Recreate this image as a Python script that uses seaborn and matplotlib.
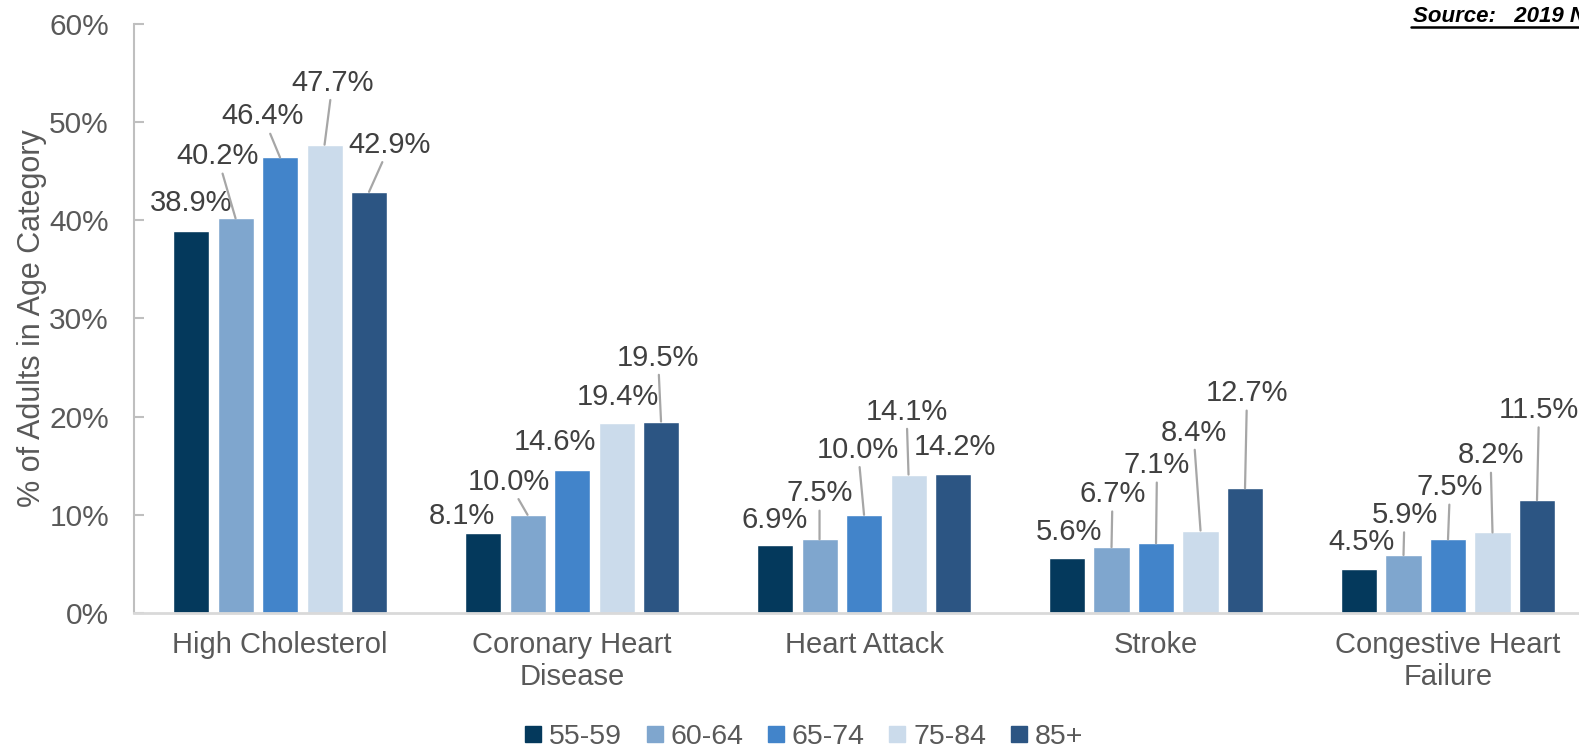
import numpy as np
import pandas as pd
import seaborn as sns
import matplotlib
matplotlib.use("Agg")
import matplotlib.pyplot as plt
from matplotlib.ticker import PercentFormatter, MultipleLocator
from matplotlib.lines import Line2D

# ---- data ----
categories = ["High Cholesterol", "Coronary Heart\nDisease", "Heart Attack",
              "Stroke", "Congestive Heart\nFailure"]
age_groups = ["55-59", "60-64", "65-74", "75-84", "85+"]
v_55_59 = [38.9, 8.1, 6.9, 5.6, 4.5]
v_60_64 = [40.2, 10.0, 7.5, 6.7, 5.9]
v_65_74 = [46.4, 14.6, 10.0, 7.1, 7.5]
v_75_84 = [47.7, 19.4, 14.1, 8.4, 8.2]
v_85_plus = [42.9, 19.5, 14.2, 12.7, 11.5]

# ---- styling ----
colors = ["#04395C", "#7FA6CE", "#4284CA", "#CBDBEB", "#2C5583"]
# label placement (pixel offsets from bar top centre), per age group across categories
off_55_59 = [(0, 28), (-21, 17), (0, 25), (2, 26), (2, 27)]
off_60_64 = [(-18, 62), (-19, 33), (0, 46), (1, 53), (1, 40)]
off_65_74 = [(-17, 41), (-17, 28), (-6, 65), (1, 78), (2, 52)]
off_75_84 = [(8, 62), (1, 26), (-2, 63), (-7, 98), (-2, 77)]
off_85_plus = [(21, 47), (-3, 64), (2, 27), (2, 95), (2, 90)]

series = [v_55_59, v_60_64, v_65_74, v_75_84, v_85_plus]
offsets = [off_55_59, off_60_64, off_65_74, off_75_84, off_85_plus]

rows = []
for g, vals in zip(age_groups, series):
    for c, v in zip(categories, vals):
        rows.append({"Category": c, "Age": g, "Value": v / 100.0})
df = pd.DataFrame(rows)

sns.set_theme(style="white")
plt.rcParams["font.family"] = ["Liberation Sans", "DejaVu Sans"]

TXT = "#595959"
LBL = "#404040"

fig = plt.figure(figsize=(15.79, 7.49), dpi=100)
ax = fig.add_axes([0.0849, 0.1816, 0.9246, 0.7864])

sns.barplot(data=df, x="Category", y="Value", hue="Age", order=categories,
            hue_order=age_groups, palette=colors, width=0.762, gap=0.19,
            saturation=1, ax=ax, legend=False, errorbar=None)

ax.set_xlim(-0.5, 4.5)
ax.set_ylim(0, 0.6)
ax.yaxis.set_major_locator(MultipleLocator(0.1))
ax.yaxis.set_major_formatter(PercentFormatter(1.0, decimals=0))
ax.set_xlabel("")
ax.set_ylabel("% of Adults in Age Category", fontsize=22, color=TXT)
ax.yaxis.label.set_va("center")
ax.yaxis.set_label_coords(-0.07, 0.5)

for s in ["top", "right"]:
    ax.spines[s].set_visible(False)
ax.spines["left"].set_color("#BFBFBF")
ax.spines["left"].set_linewidth(1.5)
ax.spines["bottom"].set_color("#D9D9D9")
ax.spines["bottom"].set_linewidth(2)

ax.tick_params(axis="y", direction="in", length=7, width=1.5, color="#BFBFBF",
               labelsize=21.5, labelcolor=TXT, pad=18, left=True)
ax.tick_params(axis="x", length=0, labelsize=21, labelcolor=TXT, pad=13)
for t in ax.get_xticklabels():
    t.set_linespacing(1.2)

# data labels with leader lines
for cont, offs, vals in zip(ax.containers, offsets, series):
    for patch, (dx, dy), v in zip(cont.patches, offs, vals):
        cx = patch.get_x() + patch.get_width() / 2
        h = patch.get_height()
        kw = {}
        if dy > 30:
            kw["arrowprops"] = dict(arrowstyle="-", color="#A6A6A6", lw=1.6,
                                    shrinkA=0, shrinkB=0)
        ax.annotate(f"{v:.1f}%", xy=(cx, h), xytext=(dx, dy),
                    textcoords="offset pixels", ha="center", va="center",
                    fontsize=21, color=LBL, annotation_clip=False, **kw)

# legend
handles = [Line2D([0], [0], marker="s", linestyle="none", markersize=11.5,
                  markerfacecolor=c, markeredgecolor=c) for c in colors]
fig.legend(handles, age_groups, loc="center", bbox_to_anchor=(0.509, 0.0155),
           ncol=5, frameon=False, fontsize=20.5, labelcolor=TXT,
           handlelength=0.6, handletextpad=0.25, columnspacing=0.85,
           borderaxespad=0, borderpad=0)

# source note (clipped at the right edge, as in the original)
fig.text(1413 / 1579, 1 - 22 / 749, "Source:   2019 National Health Interview Survey",
         fontsize=16, fontweight="bold", fontstyle="italic", color="black",
         va="baseline", ha="left")
fig.add_artist(Line2D([1411 / 1579, 1.0], [1 - 27 / 749, 1 - 27 / 749],
                      transform=fig.transFigure, color="black", lw=1.8))

fig.savefig("out.png", dpi=100)
